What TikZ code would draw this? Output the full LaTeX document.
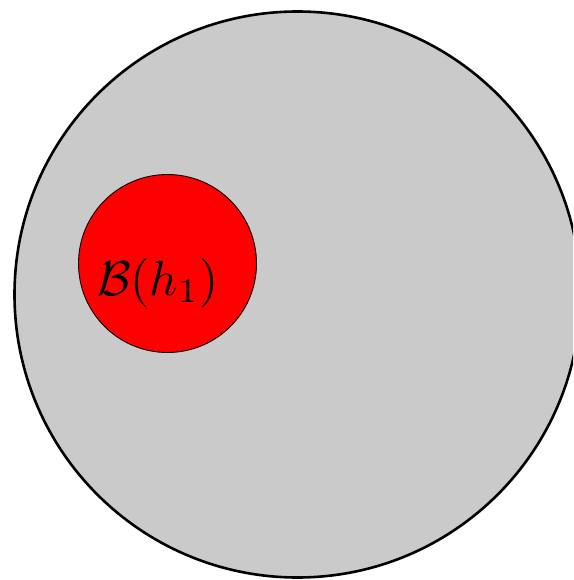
\documentclass[tikz,border=0pt]{standalone}
\begin{document}
\begin{tikzpicture}[x=1pt,y=-1pt,
  bigdisk/.style={circle,draw=black,fill={rgb,255:red,202;green,202;blue,202},line width=2.6pt,minimum size=566pt,inner sep=0pt},
  ballnode/.style={circle,draw=black,fill=red,line width=0.9pt,minimum size=178pt,inner sep=0pt},
  lbl/.style={scale=4.9,inner sep=0pt}]
\useasboundingbox (0,0) rectangle (573,580);
\clip (0,0) rectangle (573,580);
\node[bigdisk] (outer) at (297.5,294.5) {};
\node[ballnode] (ball) at (167.5,263.5) {};
\node[lbl] (label) at (158,283) {$\mathcal{B}(h_1)$};
\end{tikzpicture}
\end{document}
